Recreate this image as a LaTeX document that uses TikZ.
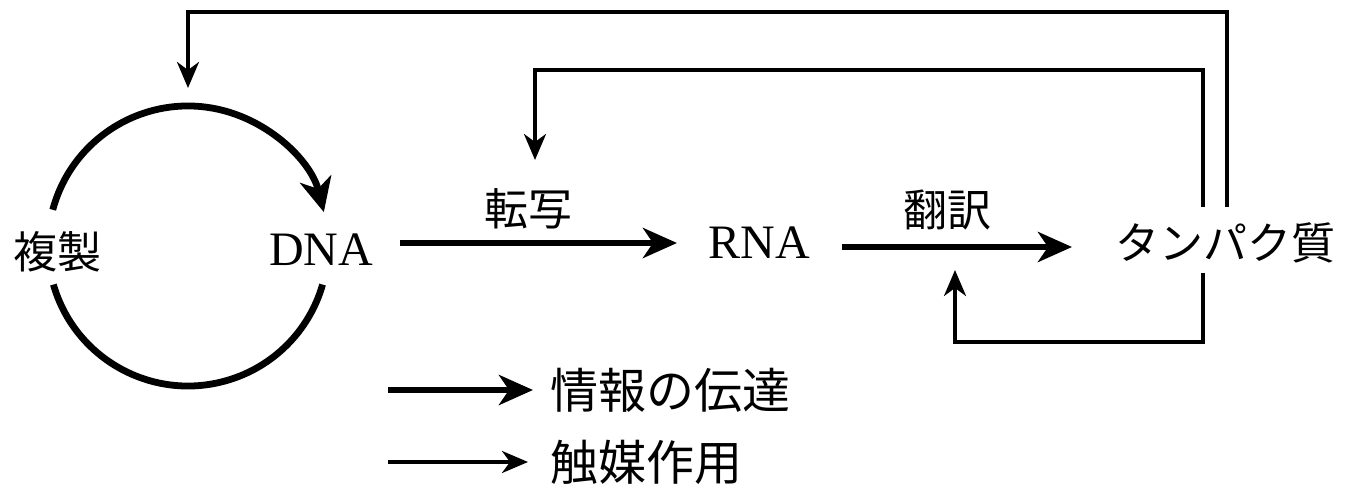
\documentclass[tikz,border=0pt]{standalone}
\usepackage{fontspec}
\setmainfont{Liberation Serif}
\newfontfamily\jp{Noto Sans CJK JP}
\usetikzlibrary{arrows.meta,calc}
\begin{document}
\begin{tikzpicture}[x=0.5pt,y=0.5pt,
  info/.style={line width=3.3pt,-{Stealth[length=17pt,width=15pt,inset=5pt]}},
  cat/.style={line width=1.8pt,-{Stealth[length=13pt,width=11pt,inset=4pt]}},
  jlab/.style={font=\jp\fontsize{22}{22}\selectfont, inner sep=0pt},
  jleg/.style={font=\jp\fontsize{24}{24}\selectfont, inner sep=0pt, anchor=west},
  llab/.style={font=\fontsize{24}{24}\selectfont, inner sep=0pt}]
\useasboundingbox[fill=white] (0,0) rectangle (1354,488);
% nodes
\node[jlab] (rep) at (57,236) {複製};
\node[llab] (dna) at (321,238) {DNA};
\node[llab] (rna) at (759,245) {RNA};
\node[jlab] (prot) at (1225,245) {タンパク質};
\node[jlab] (tr) at (528,279) {転写};
\node[jlab] (tl) at (947,278) {翻訳};
\coordinate (cc) at (188,242);
% replication circle
\draw[line width=3.4pt,-{Stealth[length=17pt,width=16pt,inset=5pt]}]
  ($(cc)+(165:70pt)$) arc[start angle=165,end angle=14,radius=70pt];
\draw[line width=3.4pt]
  ($(cc)+(196:70pt)$) arc[start angle=196,end angle=344,radius=70pt];
% main arrows
\coordinate (t0) at (400,245);
\coordinate (t1) at (677,245);
\draw[info] (t0) -- (t1);
\coordinate (l0) at (842,241);
\coordinate (l1) at (1072,241);
\draw[info] (l0) -- (l1);
% feedback lines
\coordinate (f1a) at (1227,281);
\coordinate (f1b) at (1227,476);
\coordinate (f1c) at (188,476);
\coordinate (f1d) at (188,400);
\draw[cat] (f1a) -- (f1b) -- (f1c) -- (f1d);
\coordinate (f2a) at (1203,281);
\coordinate (f2b) at (1203,418);
\coordinate (f2c) at (535,418);
\coordinate (f2d) at (535,328);
\draw[cat] (f2a) -- (f2b) -- (f2c) -- (f2d);
\coordinate (f3a) at (1203,215);
\coordinate (f3b) at (1203,146);
\coordinate (f3c) at (955,146);
\coordinate (f3d) at (955,218);
\draw[cat] (f3a) -- (f3b) -- (f3c) -- (f3d);
% legend
\coordinate (a0) at (388,98);
\coordinate (a1) at (533,98);
\draw[info] (a0) -- (a1);
\node[jleg] (leg1) at (550,98) {情報の伝達};
\coordinate (b0) at (388,26);
\coordinate (b1) at (528,26);
\draw[cat] (b0) -- (b1);
\node[jleg] (leg2) at (550,26) {触媒作用};
\end{tikzpicture}
\end{document}
